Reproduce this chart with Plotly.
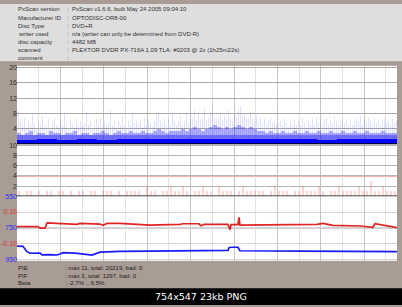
import plotly.graph_objects as go

# ---------------- data ----------------
info_labels = ["PxScan version", "Manufacturer ID", "Disc Type", "writer used",
               "disc capacity", "scanned", "comment"]
info_values = ["PxScan v1.6.6, built May 24 2005 09:04:10", "OPTODISC-OR8-00", "DVD+R",
               "n/a (writer can only be determined from DVD-R)", "4482 MB",
               "PLEXTOR DVDR PX-716A 1.09 TLA: #0203 @ 2x (1h25m22s)", ""]
summary_labels = ["PIE", "PIF", "Beta"]
summary_values = [": max 11, total: 20219, bad: 0", ": max 3, total: 1297, bad: 0", ": -2.7% .. 6.5%"]
caption = "754x547 23kb PNG"

capacity_mb = 4482

pie_peak = [8.5, 6, 5, 7, 4.5, 6, 5, 8, 5.5, 4,
            6, 5, 7.5, 4.5, 5, 6.5, 4, 5.5, 7, 5,
            4.5, 6, 5, 8, 5, 4, 6.5, 5, 4.5, 7,
            5, 6, 4.5, 5.5, 8.5, 5, 6, 4, 5, 6.5,
            5, 7, 4.5, 6, 5, 5.5, 9, 5, 6, 4.5,
            6, 5, 7.5, 5, 4.5, 6, 5, 8, 5.5, 6,
            5, 6.5, 4.5, 7, 5, 6, 5.5, 4.5, 6, 7.5,
            8, 6, 5.5, 7, 5, 6.5, 5, 8, 6, 5,
            6, 7.5, 5, 6, 8, 5.5, 6.5, 7, 9, 6,
            8, 6.5, 7, 9.5, 6, 7, 8.5, 11, 7, 6.5,
            7, 8, 6, 7.5, 6.5, 9, 7, 6, 8, 7,
            9, 10, 7.5, 8, 7, 6.5, 8.5, 7, 6, 7.5,
            6, 7, 5.5, 6.5, 5, 6, 7, 5.5, 6, 5,
            5.5, 6, 5, 7, 5.5, 4.5, 6, 5, 6.5, 5,
            6, 5, 7, 5.5, 4.5, 6, 5, 6.5, 5, 7,
            5.5, 6, 5, 6.5, 7, 5, 6, 5.5, 7.5, 6,
            5, 6, 7, 5.5, 6, 5, 6.5, 5, 6, 7,
            6, 7.5, 5, 6, 5.5, 7, 6, 5, 6.5, 5.5,
            6, 5, 6.5, 7, 5.5, 6, 5, 6.5, 5.5, 6]

pie_body = [3, 2.5, 3, 3.5, 2.5, 3, 3, 2.5, 3.5, 3,
            3, 2.5, 3, 3, 3.5, 2.5, 3, 3, 2.5, 3,
            3, 3.5, 3, 2.5, 3, 3.5, 3, 3, 3.5, 3,
            3, 3.5, 3, 3, 3.5, 4, 3.5, 3, 3.5, 3.5,
            3.5, 4, 3.5, 4, 4.5, 4, 3.5, 4, 4.5, 5,
            4.5, 4, 4.5, 4, 4.5, 5, 4.5, 4, 4.5, 4,
            3.5, 3.5, 3, 3.5, 3, 3, 3.5, 3, 3, 3.5,
            3, 3, 3.5, 3, 3, 3.5, 3, 3, 3.5, 3,
            3, 3.5, 3, 3, 3.5, 3, 3, 3.5, 3, 3,
            3, 3.5, 3, 3, 3]

pie_base = [1.2, 1.3, 1.2, 1.3, 1.2, 1.3, 1.3, 1.4, 1.4, 1.5,
            1.5, 1.4, 1.3, 1.3, 1.3, 1.2, 1.3, 1.3, 1.3]

pif = [1, 0, 1, 1, 0, 1, 0, 1, 1, 0,
       1, 1, 0, 1, 0, 1, 1, 0, 1, 1,
       0, 1, 1, 1, 0, 1, 0, 1, 1, 1,
       1, 0, 2, 1, 1, 0, 1, 1, 2, 1,
       1, 2, 1, 0, 1, 1, 2, 1, 1, 0,
       2, 1, 1, 1, 0, 1, 2, 1, 1, 1,
       1, 1, 0, 1, 2, 1, 1, 1, 0, 1,
       1, 2, 1, 1, 1, 2, 1, 0, 1, 1,
       2, 1, 1, 1, 1, 2, 1, 1, 3, 1,
       1, 2, 1, 1, 1]

beta_pos = [0, 0.242, 0.265, 0.323, 0.346, 0.495, 0.576, 0.691, 0.726, 0.956, 0.991,
            1.036, 1.186, 1.359, 1.532, 1.877, 1.912, 2.096, 2.119, 2.154, 2.430, 2.453,
            2.465, 2.545, 2.557, 2.568, 3.064, 3.259, 3.455, 3.524, 3.639, 3.951, 4.100,
            4.123, 4.377]
beta_val = [0.008, 0.008, -0.002, -0.002, 0.032, 0.028, 0.022, 0.022, 0.028, 0.024, 0.016,
            0.028, 0.028, 0.022, 0.018, 0.022, 0.026, 0.026, 0.014, 0.022, 0.022, -0.012,
            0.020, 0.020, 0.067, 0.018, 0.018, 0.022, 0.022, 0.028, 0.016, 0.012, 0.004,
            0.026, 0.002]

blue_pos = [0, 0.069, 0.115, 0.150, 0.265, 0.288, 0.380, 0.461, 0.495, 0.530, 0.668,
            0.783, 0.864, 0.956, 1.186, 1.532, 2.108, 2.430, 2.442, 2.465, 2.545, 2.568,
            3.259, 4.377]
blue_val = [865, 866, 900, 910, 909, 920, 918, 921, 915, 906, 909,
            915, 921, 903, 898, 896, 894, 892, 875, 872, 872, 894,
            896, 900]

# ---------------- figure ----------------
W, H = 402, 307
cap_gb = capacity_mb / 1024.0

def py(px):
    return 1 - px / H

def px_x(px):
    return px / W

def bins(values):
    n = len(values)
    w = cap_gb / n
    return [(i + 0.5) * w for i in range(n)], w

fig = go.Figure()

x_pk, w_pk = bins(pie_peak)
fig.add_trace(go.Bar(x=x_pk, y=pie_peak, width=w_pk * 0.5, xaxis="x", yaxis="y",
                     marker=dict(color="rgba(60,60,255,0.16)", line=dict(width=0))))
x_bd, w_bd = bins(pie_body)
fig.add_trace(go.Bar(x=x_bd, y=pie_body, width=w_bd * 0.8, xaxis="x", yaxis="y",
                     marker=dict(color="rgba(20,20,255,0.33)", line=dict(width=0))))
fig.add_trace(go.Bar(x=x_pk, y=[min(v, 2.4) for v in pie_peak], width=w_pk * 0.6,
                     xaxis="x", yaxis="y",
                     marker=dict(color="rgba(0,0,255,0.35)", line=dict(width=0))))
x_bs, w_bs = bins(pie_base)
fig.add_trace(go.Bar(x=x_bs, y=pie_base, width=w_bs, xaxis="x", yaxis="y",
                     marker=dict(color="#0000ff", line=dict(width=0))))

x_pf, w_pf = bins(pif)
fig.add_trace(go.Bar(x=x_pf, y=pif, width=w_pf * 0.3, xaxis="x2", yaxis="y2",
                     marker=dict(color="rgba(255,60,60,0.22)", line=dict(width=0))))

fig.add_trace(go.Scatter(x=blue_pos, y=blue_val, mode="lines", xaxis="x3", yaxis="y3",
                         line=dict(color="#1a1aff", width=1.7)))
fig.add_trace(go.Scatter(x=beta_pos, y=beta_val, mode="lines", xaxis="x3", yaxis="y4",
                         line=dict(color="#e02424", width=1.7)))

xdom = [px_x(17), px_x(397)]
tickfont = dict(family="Liberation Sans", size=7, color="#303030")

def xaxis(anchor):
    return dict(domain=xdom, range=[0, cap_gb], anchor=anchor, showticklabels=False,
                showgrid=True, gridcolor="#c4c4c4", gridwidth=1, tick0=0, dtick=0.5,
                minor=dict(showgrid=True, dtick=0.25, gridcolor="#e2e2e2"),
                zeroline=False, showline=False, ticks="", fixedrange=True)

layout = dict(
    width=W, height=H, margin=dict(l=0, r=0, t=0, b=0),
    paper_bgcolor="#a89c94", plot_bgcolor="#ffffff",
    showlegend=False, barmode="overlay", bargap=0,
    xaxis=xaxis("y"), xaxis2=xaxis("y2"), xaxis3=xaxis("y3"),
    yaxis=dict(domain=[py(143), py(63)], range=[0, 20.4], anchor="x",
               tickvals=[4, 8, 12, 16, 20], showgrid=True, gridcolor="#a8a8a8",
               zeroline=False, tickfont=tickfont, ticks="", ticklabelstandoff=-1),
    yaxis2=dict(domain=[py(196), py(143)], range=[0, 10.3], anchor="x2",
                tickvals=[2, 4, 6, 8, 10], showgrid=True, gridcolor="#b4b4b4",
                zeroline=False, tickfont=tickfont, ticks="", ticklabelstandoff=-1),
    yaxis3=dict(domain=[py(262), py(196)], range=[958, 550], anchor="x3",
                tickvals=[550, 650, 750, 850, 950], ticktext=["550", "", "750", "", "950"],
                showgrid=True, gridcolor="#d4d4d4", zeroline=False, ticks="",
                tickfont=dict(family="Liberation Sans", size=7, color="#3030ff"),
                ticklabelstandoff=-1),
    yaxis4=dict(overlaying="y3", side="left", anchor="x3", range=[-0.208, 0.2],
                tickvals=[-0.1, 0.1], ticktext=["-0.10", "0.10"], showgrid=False,
                zeroline=False, ticks="",
                tickfont=dict(family="Liberation Sans", size=7, color="#e03030"),
                ticklabelstandoff=-1),
)
fig.update_layout(**layout)

shapes = [
    dict(type="rect", xref="paper", yref="paper", x0=0, x1=1, y0=py(58.5), y1=1,
         fillcolor="#dedede", line=dict(width=0), layer="below"),
    dict(type="rect", xref="paper", yref="paper", x0=0, x1=1, y0=0, y1=py(290),
         fillcolor="#000000", line=dict(width=0), layer="below"),
    dict(type="line", xref="paper", yref="y2", x0=xdom[0], x1=xdom[1], y0=4, y1=4,
         line=dict(color="#ff6060", width=1), layer="below"),
    dict(type="line", xref="paper", yref="y3", x0=xdom[0], x1=xdom[1], y0=750, y1=750,
         line=dict(color="#808080", width=1), layer="below"),
    dict(type="line", xref="paper", yref="y", x0=xdom[0], x1=xdom[1], y0=0, y1=0,
         line=dict(color="#000000", width=2), layer="above"),
    dict(type="line", xref="paper", yref="y2", x0=xdom[0], x1=xdom[1], y0=0, y1=0,
         line=dict(color="#505050", width=2), layer="above"),
]
fig.update_layout(shapes=shapes)

ann = []
small = dict(family="Liberation Sans", size=6, color="#303030")
line_y = [5.5, 13.8, 22.1, 30.4, 38.7, 47.0, 55.0]
for lab, val, yy in zip(info_labels, info_values, line_y):
    ann.append(dict(x=px_x(17), y=py(yy), xref="paper", yref="paper", text=lab,
                    showarrow=False, xanchor="left", yanchor="middle", font=small))
    ann.append(dict(x=px_x(65.5), y=py(yy), xref="paper", yref="paper", text=":",
                    showarrow=False, xanchor="left", yanchor="middle", font=small))
    if val:
        ann.append(dict(x=px_x(70.5), y=py(yy), xref="paper", yref="paper", text=val,
                        showarrow=False, xanchor="left", yanchor="middle", font=small))
for lab, val, yy in zip(summary_labels, summary_values, [269.3, 277, 285]):
    ann.append(dict(x=px_x(17), y=py(yy), xref="paper", yref="paper", text=lab,
                    showarrow=False, xanchor="left", yanchor="middle",
                    font=dict(family="Liberation Sans", size=6, color="#202020")))
    ann.append(dict(x=px_x(64), y=py(yy), xref="paper", yref="paper", text=val,
                    showarrow=False, xanchor="left", yanchor="middle",
                    font=dict(family="Liberation Sans", size=6, color="#202020")))
ann.append(dict(x=0.5, y=py(298.5), xref="paper", yref="paper", text=caption,
                showarrow=False, xanchor="center", yanchor="middle",
                font=dict(family="DejaVu Sans", size=9.5, color="#ffffff")))
for a in ann:
    a["borderpad"] = 0
fig.update_layout(annotations=ann)

fig.write_html("out.html", config={"displayModeBar": False})
